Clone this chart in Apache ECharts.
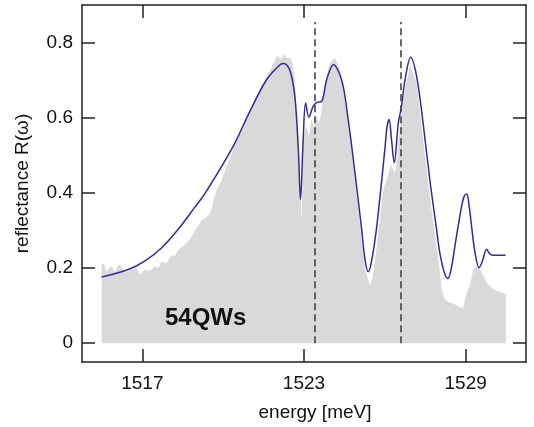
<!DOCTYPE html>
<html>
<head>
<meta charset="utf-8">
<script src="https://cdn.jsdelivr.net/npm/echarts@6/dist/echarts.min.js"></script>
<style>html,body{margin:0;padding:0;background:#fff;}#c{width:534px;height:427px;}</style>
</head>
<body>
<div id="c"></div>
<script>
// experimental reflectance (grey area)
const expEnergy = [1515.49,1515.58,1515.68,1515.76,1515.86,1515.98,1516.08,1516.17,1516.26,1516.36,1516.47,1516.60,1516.79,1516.91,1517.10,1517.28,1517.47,1517.58,1517.72,1517.90,1518.09,1518.21,1518.33,1518.58,1518.69,1518.83,1518.95,1519.06,1519.20,1519.32,1519.51,1519.76,1519.92,1520.13,1520.29,1520.50,1520.66,1520.87,1521.03,1521.24,1521.40,1521.61,1521.77,1521.92,1522.03,1522.14,1522.26,1522.37,1522.48,1522.57,1522.66,1522.79,1522.91,1522.97,1523.03,1523.10,1523.18,1523.28,1523.37,1523.47,1523.55,1523.65,1523.78,1523.96,1524.07,1524.15,1524.24,1524.33,1524.48,1524.64,1524.89,1525.14,1525.27,1525.45,1525.56,1525.70,1525.94,1526.07,1526.22,1526.38,1526.46,1526.56,1526.75,1526.94,1527.00,1527.18,1527.42,1527.67,1527.92,1528.04,1528.11,1528.23,1528.42,1528.60,1528.79,1528.91,1529.04,1529.16,1529.28,1529.39,1529.47,1529.60,1529.78,1529.96,1530.15,1530.33,1530.49];
const expRefl = [0.212,0.210,0.188,0.200,0.205,0.188,0.205,0.210,0.200,0.188,0.190,0.196,0.200,0.182,0.196,0.192,0.205,0.200,0.217,0.213,0.235,0.232,0.249,0.262,0.270,0.284,0.301,0.310,0.328,0.332,0.345,0.409,0.430,0.471,0.500,0.542,0.570,0.595,0.625,0.657,0.680,0.710,0.730,0.754,0.765,0.755,0.768,0.758,0.760,0.745,0.700,0.515,0.329,0.540,0.560,0.577,0.550,0.595,0.575,0.604,0.585,0.617,0.692,0.745,0.755,0.759,0.745,0.728,0.665,0.586,0.435,0.276,0.196,0.152,0.180,0.258,0.409,0.435,0.475,0.453,0.493,0.577,0.674,0.741,0.745,0.692,0.542,0.391,0.258,0.195,0.140,0.117,0.108,0.104,0.095,0.095,0.135,0.152,0.196,0.205,0.203,0.188,0.161,0.148,0.139,0.135,0.130];

// theoretical reflectance (blue line)
const thEnergy = [1515.49,1516.48,1517.10,1517.72,1518.33,1518.95,1519.32,1520.37,1520.99,1521.61,1522.11,1522.26,1522.48,1522.66,1522.79,1522.87,1522.97,1523.06,1523.18,1523.34,1523.48,1523.65,1523.84,1524.09,1524.40,1524.64,1524.89,1525.14,1525.26,1525.38,1525.50,1525.70,1526.00,1526.08,1526.16,1526.25,1526.35,1526.50,1526.62,1526.75,1526.96,1527.18,1527.42,1527.67,1527.92,1528.04,1528.20,1528.34,1528.47,1528.60,1528.85,1528.95,1529.04,1529.13,1529.22,1529.35,1529.50,1529.62,1529.78,1529.87,1529.96,1530.48];
const thRefl = [0.176,0.196,0.219,0.254,0.303,0.362,0.398,0.524,0.617,0.701,0.741,0.744,0.725,0.657,0.515,0.382,0.542,0.639,0.602,0.630,0.641,0.643,0.701,0.741,0.700,0.595,0.454,0.303,0.225,0.190,0.215,0.311,0.515,0.575,0.595,0.540,0.480,0.586,0.630,0.701,0.761,0.710,0.586,0.435,0.303,0.241,0.190,0.172,0.200,0.258,0.365,0.392,0.397,0.365,0.311,0.240,0.201,0.218,0.250,0.240,0.235,0.234];

// dashed marker energies
const markerEnergies = [1523.41, 1526.6];
const markerTop = 0.855;

const xTicks = [1517, 1523, 1529];
const yTicks = [0, 0.2, 0.4, 0.6, 0.8];
const xMin = 1514.76, xMax = 1531.24;
const yMin = -0.05, yMax = 0.9;

const FONT = 'Liberation Sans, Arial, sans-serif';
const frame = {show: true, onZero: false, lineStyle: {color: '#222', width: 1.5}};
const tick = (vals) => ({show: true, inside: true, length: 13, customValues: vals, lineStyle: {color: '#222', width: 1.5}});

const chart = echarts.init(document.getElementById('c'), null, {renderer: 'canvas'});
chart.setOption({
  animation: false,
  backgroundColor: '#fff',
  grid: {left: 82, right: 8, top: 5, bottom: 64, containLabel: false},
  xAxis: [{
    type: 'value', min: xMin, max: xMax, position: 'bottom',
    axisLine: frame, axisTick: tick(xTicks),
    axisLabel: {customValues: xTicks, margin: 12, fontSize: 19, color: '#111', fontFamily: FONT,
      formatter: v => String(v)},
    splitLine: {show: false},
    name: 'energy [meV]', nameLocation: 'middle', nameGap: 41,
    nameTextStyle: {fontSize: 19, color: '#111', fontFamily: FONT, padding: [0, 0, 0, 22]}
  }, {
    type: 'value', min: xMin, max: xMax, position: 'top',
    axisLine: frame, axisTick: tick(xTicks), axisLabel: {show: false}, splitLine: {show: false}
  }],
  yAxis: [{
    type: 'value', min: yMin, max: yMax, position: 'left',
    axisLine: frame, axisTick: tick(yTicks),
    axisLabel: {customValues: yTicks, margin: 9, fontSize: 19, color: '#111', fontFamily: FONT,
      formatter: v => (v === 0 ? '0' : v.toFixed(1))},
    splitLine: {show: false},
    name: 'reflectance R(\u03c9)', nameLocation: 'middle', nameGap: 50,
    nameTextStyle: {fontSize: 19, color: '#111', fontFamily: FONT}
  }, {
    type: 'value', min: yMin, max: yMax, position: 'right',
    axisLine: frame, axisTick: tick(yTicks), axisLabel: {show: false}, splitLine: {show: false}
  }],
  series: [{
    type: 'line', name: 'experiment',
    data: expEnergy.map((e, i) => [e, expRefl[i]]),
    showSymbol: false, symbol: 'none',
    lineStyle: {width: 0, color: '#d9d9d9'},
    areaStyle: {color: '#d9d9d9', opacity: 1},
    z: 1
  }, {
    type: 'line', name: 'theory',
    data: thEnergy.map((e, i) => [e, thRefl[i]]),
    showSymbol: false, symbol: 'none', smooth: 0.35,
    lineStyle: {width: 1.5, color: '#33299a'},
    z: 3,
    markLine: {
      silent: true, symbol: 'none', z: 5,
      lineStyle: {color: '#444', width: 1.6, type: [7, 4]},
      label: {show: false},
      data: markerEnergies.map(e => [{coord: [e, 0]}, {coord: [e, markerTop]}])
    }
  }],
  graphic: [{
    type: 'text', left: 165, top: 306, z: 100,
    style: {text: '54QWs', fontSize: 24, fontWeight: 'bold', fontFamily: FONT, fill: '#111'}
  }]
});
</script>
</body>
</html>
